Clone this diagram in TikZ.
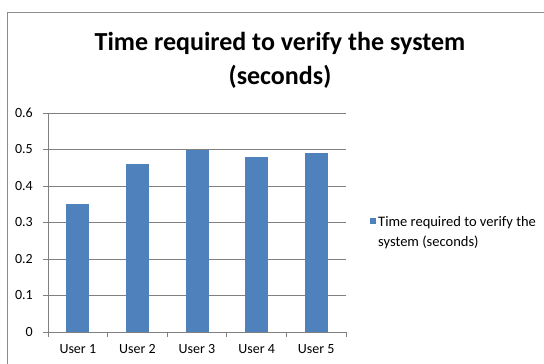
\documentclass[tikz,border=0pt]{standalone}
\usepackage{fontspec}
\setmainfont{Carlito}
\begin{document}
\begin{tikzpicture}[x=1pt,y=-1pt,
  frame/.style={draw=black!45,line width=0.8pt},
  grid/.style={draw=black!50,line width=0.6pt},
  axisline/.style={draw=black!50,line width=0.8pt},
  bar/.style={fill=barblue,draw=none},
  ticklab/.style={font=\fontsize{14}{16}\selectfont,anchor=east,inner sep=0pt},
  catlab/.style={font=\fontsize{14}{16}\selectfont,anchor=center,inner sep=0pt},
  titlestyle/.style={font=\bfseries\fontsize{26}{34}\selectfont,align=center,inner sep=0pt},
  legtext/.style={font=\fontsize{14.5}{19.5}\selectfont,align=left,anchor=west,inner sep=0pt}]
\definecolor{barblue}{HTML}{4F81BD}
\useasboundingbox (0,0) rectangle (544,364);
\fill[white] (0,0) rectangle (544,364);
% outer frame (only top and left edges visible)
\draw[frame] (550,12) -- (7.5,12) -- (7.5,370);
% title
\node[titlestyle] (title) at (280,60) {Time required to verify the system\\(seconds)};
% gridlines and tick labels
\foreach \v/\lab in {0/0,1/0.1,2/0.2,3/0.3,4/0.4,5/0.5,6/0.6}{
  \pgfmathsetmacro{\yy}{332-36.5*\v}
  \ifnum\v>0 \draw[grid] (48,\yy) -- (346,\yy); \fi
  \draw[axisline] (43,\yy) -- (48,\yy);
  \node[ticklab] (yl\v) at (33,\yy) {\lab};
}
% bars
\foreach \val [count=\i from 0] in {0.35,0.46,0.50,0.48,0.49}{
  \pgfmathsetmacro{\cx}{48+59.6*\i+29.8}
  \pgfmathsetmacro{\top}{332-365*\val}
  \fill[bar] (\cx-11.5,\top) rectangle (\cx+11.5,332);
}
% axes
\draw[axisline] (48,113) -- (48,332);
\draw[axisline] (48,332) -- (346,332);
\foreach \i in {0,...,5}{
  \pgfmathsetmacro{\tx}{48+59.6*\i}
  \draw[axisline] (\tx,332) -- (\tx,337);
}
\foreach \i in {1,...,5}{
  \pgfmathsetmacro{\cx}{48+59.6*(\i-1)+29.8}
  \node[catlab] (c\i) at (\cx,349) {User \i};
}
% legend
\fill[barblue] (370,218) rectangle (376,224) coordinate (legkey);
\node[legtext] (leg) at (378,232.5) {Time required to verify the\\system (seconds)};
\end{tikzpicture}
\end{document}
